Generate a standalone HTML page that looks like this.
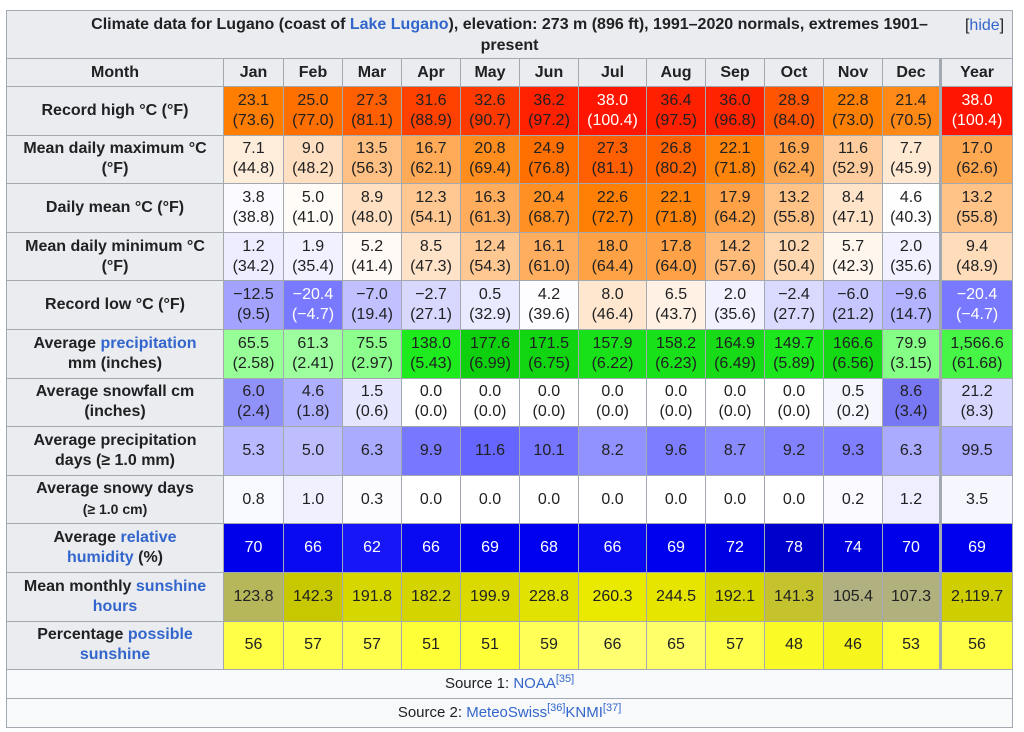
<!DOCTYPE html>
<html><head><meta charset="utf-8">
<style>
html,body{margin:0;padding:0;background:#fff;width:1024px;height:732px;overflow:hidden}
table{position:absolute;left:6px;top:10px;border-collapse:collapse;table-layout:fixed;width:1007px;font-family:"Liberation Sans",sans-serif;font-size:16px;color:#202122}
td,th{border:1px solid #a2a9b1;padding:0;text-align:center;line-height:20px}
th{background:#eaecf0;font-weight:bold;padding:0 6px}
.t{height:47px;position:relative;line-height:21px;padding:0 60px}
a{color:#3366cc;text-decoration:none}
.hide{position:absolute;right:8px;top:4px;font-weight:normal}
.y{border-left:3px solid #a2a9b1}
.w{color:#fff}
.src{background:#f8f9fa;font-size:15px;height:28px}
sup{font-size:11px;line-height:0}
tr.r td,tr.r th{height:47.6px}
</style></head><body>
<table>
<colgroup><col style="width:217px"><col style="width:60px"><col style="width:59px"><col style="width:59px"><col style="width:59px"><col style="width:59px"><col style="width:59px"><col style="width:68px"><col style="width:59px"><col style="width:59px"><col style="width:59px"><col style="width:59px"><col style="width:58px"><col style="width:72px"></colgroup>
<tr><th colspan="14" class="t">Climate data for Lugano (coast of <a>Lake Lugano</a>), elevation: 273 m (896 ft), 1991–2020 normals, extremes 1901–present<span class="hide">[<a>hide</a>]</span></th></tr>
<tr style="height:28px"><th>Month</th><th>Jan</th><th>Feb</th><th>Mar</th><th>Apr</th><th>May</th><th>Jun</th><th>Jul</th><th>Aug</th><th>Sep</th><th>Oct</th><th>Nov</th><th>Dec</th><th class="y">Year</th></tr>
<tr class="r"><th>Record high °C (°F)</th>
<td style="background:rgb(255,125,0)">23.1<br>(73.6)</td><td style="background:rgb(255,111,0)">25.0<br>(77.0)</td><td style="background:rgb(255,95,0)">27.3<br>(81.1)</td><td style="background:rgb(255,65,0)">31.6<br>(88.9)</td><td style="background:rgb(255,58,0)">32.6<br>(90.7)</td><td style="background:rgb(255,33,0)">36.2<br>(97.2)</td><td class="w" style="background:rgb(255,21,0)">38.0<br>(100.4)</td><td style="background:rgb(255,32,0)">36.4<br>(97.5)</td><td style="background:rgb(255,35,0)">36.0<br>(96.8)</td><td style="background:rgb(255,84,0)">28.9<br>(84.0)</td><td style="background:rgb(255,127,3)">22.8<br>(73.0)</td><td style="background:rgb(255,137,22)">21.4<br>(70.5)</td><td class="y w" style="background:rgb(255,21,0)">38.0<br>(100.4)</td></tr>
<tr class="r"><th>Mean daily maximum °C (°F)</th>
<td style="background:rgb(255,237,219)">7.1<br>(44.8)</td><td style="background:rgb(255,223,193)">9.0<br>(48.2)</td><td style="background:rgb(255,192,131)">13.5<br>(56.3)</td><td style="background:rgb(255,170,87)">16.7<br>(62.1)</td><td style="background:rgb(255,141,30)">20.8<br>(69.4)</td><td style="background:rgb(255,112,0)">24.9<br>(76.8)</td><td style="background:rgb(255,95,0)">27.3<br>(81.1)</td><td style="background:rgb(255,99,0)">26.8<br>(80.2)</td><td style="background:rgb(255,132,12)">22.1<br>(71.8)</td><td style="background:rgb(255,168,84)">16.9<br>(62.4)</td><td style="background:rgb(255,205,157)">11.6<br>(52.9)</td><td style="background:rgb(255,233,211)">7.7<br>(45.9)</td><td class="y" style="background:rgb(255,168,82)">17.0<br>(62.6)</td></tr>
<tr class="r"><th>Daily mean °C (°F)</th>
<td style="background:rgb(251,251,255)">3.8<br>(38.8)</td><td style="background:rgb(255,252,248)">5.0<br>(41.0)</td><td style="background:rgb(255,224,194)">8.9<br>(48.0)</td><td style="background:rgb(255,200,147)">12.3<br>(54.1)</td><td style="background:rgb(255,172,92)">16.3<br>(61.3)</td><td style="background:rgb(255,144,36)">20.4<br>(68.7)</td><td style="background:rgb(255,128,5)">22.6<br>(72.7)</td><td style="background:rgb(255,132,12)">22.1<br>(71.8)</td><td style="background:rgb(255,161,70)">17.9<br>(64.2)</td><td style="background:rgb(255,194,135)">13.2<br>(55.8)</td><td style="background:rgb(255,228,201)">8.4<br>(47.1)</td><td style="background:rgb(255,254,254)">4.6<br>(40.3)</td><td class="y" style="background:rgb(255,194,135)">13.2<br>(55.8)</td></tr>
<tr class="r"><th>Mean daily minimum °C (°F)</th>
<td style="background:rgb(237,237,255)">1.2<br>(34.2)</td><td style="background:rgb(241,241,255)">1.9<br>(35.4)</td><td style="background:rgb(255,250,245)">5.2<br>(41.4)</td><td style="background:rgb(255,227,200)">8.5<br>(47.3)</td><td style="background:rgb(255,200,146)">12.4<br>(54.3)</td><td style="background:rgb(255,174,95)">16.1<br>(61.0)</td><td style="background:rgb(255,161,69)">18.0<br>(64.4)</td><td style="background:rgb(255,162,71)">17.8<br>(64.0)</td><td style="background:rgb(255,187,121)">14.2<br>(57.6)</td><td style="background:rgb(255,215,176)">10.2<br>(50.4)</td><td style="background:rgb(255,247,238)">5.7<br>(42.3)</td><td style="background:rgb(241,241,255)">2.0<br>(35.6)</td><td class="y" style="background:rgb(255,221,187)">9.4<br>(48.9)</td></tr>
<tr class="r"><th>Record low °C (°F)</th>
<td style="background:rgb(163,163,255)">−12.5<br>(9.5)</td><td class="w" style="background:rgb(121,121,255)">−20.4<br>(−4.7)</td><td style="background:rgb(193,193,255)">−7.0<br>(19.4)</td><td style="background:rgb(216,216,255)">−2.7<br>(27.1)</td><td style="background:rgb(233,233,255)">0.5<br>(32.9)</td><td style="background:rgb(253,253,255)">4.2<br>(39.6)</td><td style="background:rgb(255,230,207)">8.0<br>(46.4)</td><td style="background:rgb(255,241,227)">6.5<br>(43.7)</td><td style="background:rgb(241,241,255)">2.0<br>(35.6)</td><td style="background:rgb(218,218,255)">−2.4<br>(27.7)</td><td style="background:rgb(199,199,255)">−6.0<br>(21.2)</td><td style="background:rgb(179,179,255)">−9.6<br>(14.7)</td><td class="y w" style="background:rgb(121,121,255)">−20.4<br>(−4.7)</td></tr>
<tr class="r"><th>Average <a>precipitation</a><br>mm (inches)</th>
<td style="background:rgb(152,255,152)">65.5<br>(2.58)</td><td style="background:rgb(158,255,158)">61.3<br>(2.41)</td><td style="background:rgb(140,255,140)">75.5<br>(2.97)</td><td style="background:rgb(30,235,30)">138.0<br>(5.43)</td><td style="background:rgb(15,208,15)">177.6<br>(6.99)</td><td style="background:rgb(18,213,18)">171.5<br>(6.75)</td><td style="background:rgb(25,225,25)">157.9<br>(6.22)</td><td style="background:rgb(25,225,25)">158.2<br>(6.23)</td><td style="background:rgb(22,219,22)">164.9<br>(6.49)</td><td style="background:rgb(28,230,28)">149.7<br>(5.89)</td><td style="background:rgb(20,217,20)">166.6<br>(6.56)</td><td style="background:rgb(133,255,133)">79.9<br>(3.15)</td><td class="y" style="background:rgb(70,245,70)">1,566.6<br>(61.68)</td></tr>
<tr class="r"><th>Average snowfall cm<br>(inches)</th>
<td style="background:rgb(145,145,250)">6.0<br>(2.4)</td><td style="background:rgb(175,175,255)">4.6<br>(1.8)</td><td style="background:rgb(230,230,255)">1.5<br>(0.6)</td><td style="background:#fff">0.0<br>(0.0)</td><td style="background:#fff">0.0<br>(0.0)</td><td style="background:#fff">0.0<br>(0.0)</td><td style="background:#fff">0.0<br>(0.0)</td><td style="background:#fff">0.0<br>(0.0)</td><td style="background:#fff">0.0<br>(0.0)</td><td style="background:#fff">0.0<br>(0.0)</td><td style="background:rgb(246,246,255)">0.5<br>(0.2)</td><td style="background:rgb(120,120,245)">8.6<br>(3.4)</td><td class="y" style="background:rgb(215,215,255)">21.2<br>(8.3)</td></tr>
<tr class="r"><th>Average precipitation<br>days (≥ 1.0 mm)</th>
<td style="background:rgb(185,185,255)">5.3</td><td style="background:rgb(190,190,255)">5.0</td><td style="background:rgb(170,170,255)">6.3</td><td style="background:rgb(120,120,255)">9.9</td><td style="background:rgb(102,102,255)">11.6</td><td style="background:rgb(117,117,255)">10.1</td><td style="background:rgb(145,145,255)">8.2</td><td style="background:rgb(125,125,255)">9.6</td><td style="background:rgb(138,138,255)">8.7</td><td style="background:rgb(130,130,255)">9.2</td><td style="background:rgb(128,128,255)">9.3</td><td style="background:rgb(170,170,255)">6.3</td><td class="y" style="background:rgb(170,170,255)">99.5</td></tr>
<tr class="r"><th>Average snowy days<br><span style="font-size:14px">(≥ 1.0 cm)</span></th>
<td style="background:rgb(248,248,255)">0.8</td><td style="background:rgb(240,240,255)">1.0</td><td style="background:rgb(252,252,255)">0.3</td><td style="background:#fff">0.0</td><td style="background:#fff">0.0</td><td style="background:#fff">0.0</td><td style="background:#fff">0.0</td><td style="background:#fff">0.0</td><td style="background:#fff">0.0</td><td style="background:#fff">0.0</td><td style="background:rgb(250,250,255)">0.2</td><td style="background:rgb(238,238,255)">1.2</td><td class="y" style="background:rgb(246,246,255)">3.5</td></tr>
<tr class="r"><th>Average <a>relative</a><br><a>humidity</a> (%)</th>
<td class="w" style="background:rgb(0,0,235)">70</td><td class="w" style="background:rgb(10,10,242)">66</td><td class="w" style="background:rgb(22,22,248)">62</td><td class="w" style="background:rgb(10,10,242)">66</td><td class="w" style="background:rgb(0,0,238)">69</td><td class="w" style="background:rgb(0,0,240)">68</td><td class="w" style="background:rgb(10,10,242)">66</td><td class="w" style="background:rgb(0,0,238)">69</td><td class="w" style="background:rgb(0,0,228)">72</td><td class="w" style="background:rgb(0,0,205)">78</td><td class="w" style="background:rgb(0,0,222)">74</td><td class="w" style="background:rgb(0,0,235)">70</td><td class="y w" style="background:rgb(0,0,238)">69</td></tr>
<tr class="r"><th>Mean monthly <a>sunshine</a><br><a>hours</a></th>
<td style="background:rgb(182,182,90)">123.8</td><td style="background:rgb(200,200,0)">142.3</td><td style="background:rgb(215,215,0)">191.8</td><td style="background:rgb(212,212,0)">182.2</td><td style="background:rgb(218,218,0)">199.9</td><td style="background:rgb(226,226,0)">228.8</td><td style="background:rgb(234,234,0)">260.3</td><td style="background:rgb(229,229,0)">244.5</td><td style="background:rgb(215,215,0)">192.1</td><td style="background:rgb(196,194,45)">141.3</td><td style="background:rgb(176,176,128)">105.4</td><td style="background:rgb(177,177,125)">107.3</td><td class="y" style="background:rgb(206,206,0)">2,119.7</td></tr>
<tr class="r"><th>Percentage <a>possible</a><br><a>sunshine</a></th>
<td style="background:rgb(255,255,72)">56</td><td style="background:rgb(255,255,78)">57</td><td style="background:rgb(255,255,78)">57</td><td style="background:rgb(255,255,55)">51</td><td style="background:rgb(255,255,55)">51</td><td style="background:rgb(255,255,88)">59</td><td style="background:rgb(255,255,112)">66</td><td style="background:rgb(255,255,106)">65</td><td style="background:rgb(255,255,78)">57</td><td style="background:rgb(250,250,38)">48</td><td style="background:rgb(246,246,30)">46</td><td style="background:rgb(255,255,62)">53</td><td class="y" style="background:rgb(255,255,72)">56</td></tr>
<tr><td colspan="14" class="src">Source 1: <a>NOAA</a><sup><a>[35]</a></sup></td></tr>
<tr><td colspan="14" class="src">Source 2: <a>MeteoSwiss</a><sup><a>[36]</a></sup><a>KNMI</a><sup><a>[37]</a></sup></td></tr>
</table>
</body></html>
